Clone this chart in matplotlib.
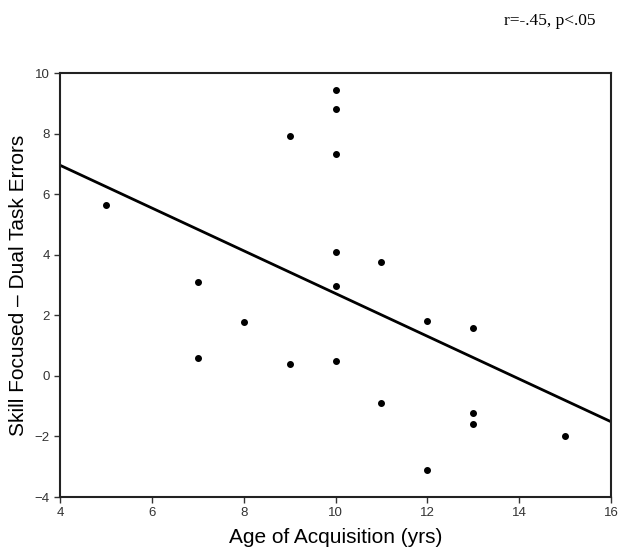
import numpy as np
import matplotlib.pyplot as plt

# age of acquisition (yrs) vs. skill focused - dual task errors
age = [5, 7, 7, 8, 9, 9, 10, 10, 10, 10, 10, 10, 11, 11, 12, 12, 13, 13, 13, 15]
errors = [5.65, 3.1, 0.6, 1.78, 7.92, 0.38, 9.45, 8.82, 7.33, 4.08, 2.97, 0.49,
          3.77, -0.9, 1.8, -3.12, 1.57, -1.22, -1.6, -2.0]
x_ticks = [4, 6, 8, 10, 12, 14, 16]
y_ticks = [-4, -2, 0, 2, 4, 6, 8, 10]

plt.rcParams['font.family'] = ['Liberation Sans', 'DejaVu Sans']

fig = plt.figure(figsize=(6.29, 5.59), dpi=100)
ax = fig.add_axes([0.0954, 0.1109, 0.876, 0.7585])

ax.scatter(age, errors, s=16, color='black', zorder=3)

# regression line
slope, icpt = np.polyfit(age, errors, 1)
xx = np.array([4, 16])
ax.plot(xx, slope * xx + icpt, color='black', lw=2)

ax.set_xlim(4, 16)
ax.set_ylim(-4, 10)
ax.set_xticks(x_ticks)
ax.set_yticks(y_ticks)
ax.tick_params(direction='out', length=4, width=1, labelsize=9.5, colors='#333333')
for sp in ax.spines.values():
    sp.set_linewidth(1.5)
    sp.set_color('#222222')

ax.set_xlabel('Age of Acquisition (yrs)', fontsize=15, labelpad=6)
ax.set_ylabel('Skill Focused \u2013 Dual Task Errors', fontsize=15, labelpad=5)

fig.text(0.947, 0.962, 'r=-.45, p<.05', family='Liberation Serif', fontsize=12.5,
         ha='right', va='center')

fig.savefig('out.png', dpi=100)
